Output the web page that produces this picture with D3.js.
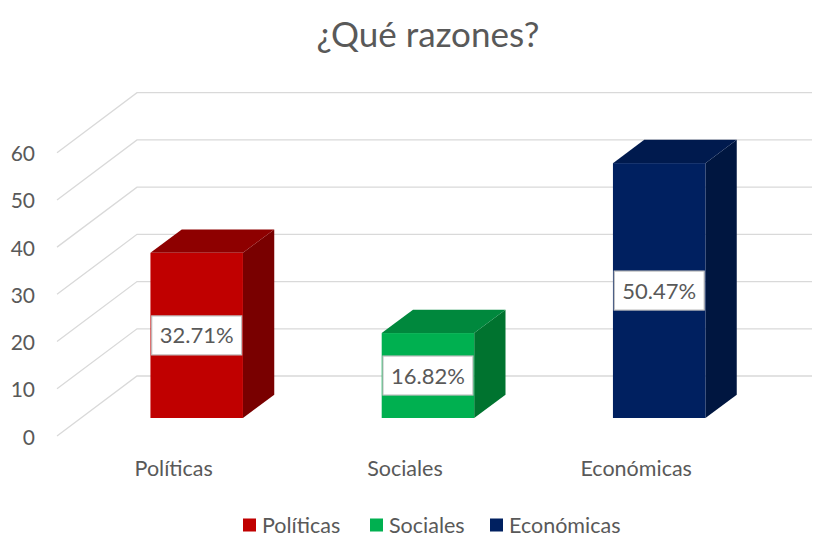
<!DOCTYPE html>
<html>
<head>
<meta charset="utf-8">
<script src="https://cdn.jsdelivr.net/npm/d3@7"></script>
<style>
  body { margin: 0; background: white; }
  text { font-family: Lato, "Open Sans", sans-serif; fill: #595959; }
</style>
</head>
<body>
<svg id="chart"></svg>
<script>
// chart data
var categories = ["Políticas", "Sociales", "Económicas"]
var values = [32.71, 16.82, 50.47]
var labels = ["32.71%", "16.82%", "50.47%"]
var yTicks = [0, 10, 20, 30, 40, 50, 60]
var frontColors = ["#C00000", "#00B050", "#002060"]
var topColors = ["#8E0000", "#00883D", "#001A4E"]
var sideColors = ["#790000", "#00732F", "#001640"]

var dimensions = {
    width: 817,
    height: 536,
    wallLeft: 137,
    wallRight: 812,
    depthX: 80,     // floor depth, front edge is shifted left / down
    depthY: 60,
    barWidth: 92.5,
    barDepthX: 31.3,
    barDepthY: 23.3
}

var svg = d3.select("#chart")
    .attr("width", dimensions.width)
    .attr("height", dimensions.height)

// back wall scale (gridlines) and bar front scale
var yWall = d3.scaleLinear().domain([0, 60]).range([376, 92.7])
var yBar = d3.scaleLinear().domain([0, 60]).range([418, 418 - 60 * 5.05])
var xScale = d3.scalePoint().domain(categories).range([196.7, 659.2])

// Title
svg.append("text")
    .attr("x", 428)
    .attr("y", 47)
    .attr("text-anchor", "middle")
    .style("font-size", "35px")
    .text("¿Qué razones?")

// Gridlines: diagonal on side wall + horizontal on back wall
var grid = svg.append("g")
yTicks.forEach(t => {
    grid.append("path")
        .attr("d", `M${dimensions.wallLeft - dimensions.depthX},${yWall(t) + dimensions.depthY}` +
                   `L${dimensions.wallLeft},${yWall(t)}L${dimensions.wallRight},${yWall(t)}`)
        .attr("fill", "none")
        .attr("stroke", "#d9d9d9")
        .attr("stroke-width", 1.3)
})

// y axis labels
svg.append("g").selectAll("text")
    .data(yTicks)
    .enter()
    .append("text")
    .attr("x", 35)
    .attr("y", d => yWall(d) + dimensions.depthY + 8.5)
    .attr("text-anchor", "end")
    .style("font-size", "21px")
    .text(d => d)

// 3D bars
var bars = svg.append("g").selectAll("g")
    .data(categories)
    .enter()
    .append("g")

bars.each(function(c, i) {
    var g = d3.select(this)
    var x0 = xScale(c) - dimensions.barWidth / 2
    var x1 = xScale(c) + dimensions.barWidth / 2
    var yTop = yBar(values[i])
    var yBase = yBar(0)
    var dx = dimensions.barDepthX, dy = dimensions.barDepthY

    // side face
    g.append("path")
        .attr("d", `M${x1},${yTop}L${x1 + dx},${yTop - dy}L${x1 + dx},${yBase - dy}L${x1},${yBase}Z`)
        .attr("fill", sideColors[i])
    // top face
    g.append("path")
        .attr("d", `M${x0},${yTop}L${x0 + dx},${yTop - dy}L${x1 + dx},${yTop - dy}L${x1},${yTop}Z`)
        .attr("fill", topColors[i])
    // front face
    g.append("rect")
        .attr("x", x0)
        .attr("y", yTop)
        .attr("width", dimensions.barWidth)
        .attr("height", yBase - yTop)
        .attr("fill", frontColors[i])

    // data label
    var cy = (yTop + yBase) / 2
    g.append("rect")
        .attr("x", xScale(c) - 45)
        .attr("y", cy - 19.5)
        .attr("width", 90)
        .attr("height", 39)
        .attr("fill", "white")
        .attr("stroke", "#bfbfbf")
        .attr("stroke-width", 1.2)
    g.append("text")
        .attr("x", xScale(c))
        .attr("y", cy + 8)
        .attr("text-anchor", "middle")
        .style("font-size", "22px")
        .text(labels[i])
})

// category labels
svg.append("g").selectAll("text")
    .data(categories)
    .enter()
    .append("text")
    .attr("x", d => xScale(d) - 23)
    .attr("y", 476)
    .attr("text-anchor", "middle")
    .style("font-size", "21.5px")
    .text(d => d)

// legend
var legendX = [243, 370, 490]
var legend = svg.append("g").selectAll("g")
    .data(categories)
    .enter()
    .append("g")
    .attr("transform", (d, i) => `translate(${legendX[i]}, 525)`)

legend.append("rect")
    .attr("x", 0)
    .attr("y", -6.5)
    .attr("width", 13)
    .attr("height", 13)
    .attr("fill", (d, i) => frontColors[i])

legend.append("text")
    .attr("x", 19)
    .attr("y", 7.5)
    .style("font-size", "21.5px")
    .text(d => d)
</script>
</body>
</html>
